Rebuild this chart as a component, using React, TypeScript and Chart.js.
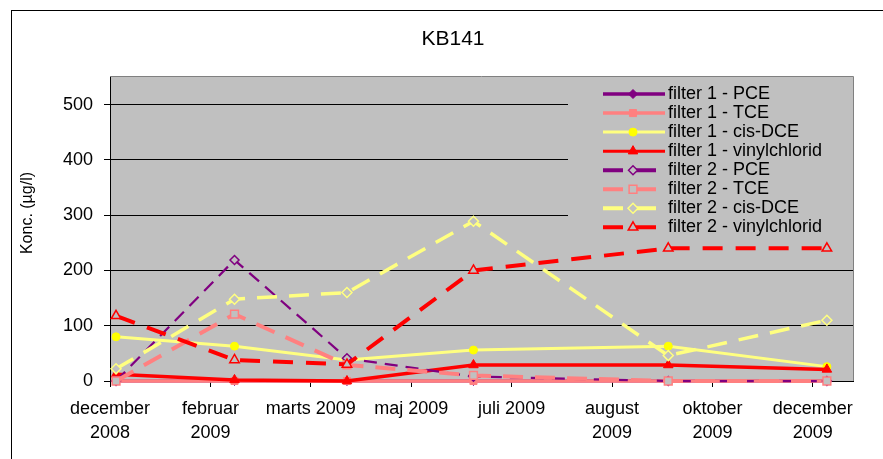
import React, { useEffect, useRef } from "react";
import { Chart, registerables } from "chart.js";
import { drawPoint } from "chart.js/helpers";

Chart.register(...registerables);

// ---------- data ----------
const chartTitle = "KB141";
const yAxisTitle = "Konc. (µg/l)";

const axisStartDate = "2008-12-19";
const axisSpanDays = 370;
const tickStepDays = 50;
const tickLabels: (string | string[])[] = [
  ["december", "2008"],
  ["februar", "2009"],
  "marts 2009",
  "maj 2009",
  "juli 2009",
  ["august", "2009"],
  ["oktober", "2009"],
  ["december", "2009"],
];

const sampleDates = ["2008-12-22", "2009-02-19", "2009-04-16", "2009-06-18", "2009-09-23", "2009-12-11"];

const seriesNames = [
  "filter 1 - PCE",
  "filter 1 - TCE",
  "filter 1 - cis-DCE",
  "filter 1 - vinylchlorid",
  "filter 2 - PCE",
  "filter 2 - TCE",
  "filter 2 - cis-DCE",
  "filter 2 - vinylchlorid",
];

const filter1PCE = [0, 0, 0, 0, 0, 0];
const filter1TCE = [0, 0, 0, 0, 0, 0];
const filter1CisDCE = [80, 63, 38, 56, 63, 26];
const filter1VC = [12, 2, 0, 29, 29, 21];
const filter2PCE = [0, 219, 41, 8, 0, 0];
const filter2TCE = [0, 121, 29, 10, 0, 0];
const filter2CisDCE = [22, 148, 160, 289, 46, 110];
const filter2VC = [118, 38, 30, 200, 240, 240];

const yMin = 0;
const yMax = 550;
const yStep = 100;

// ---------- styling ----------
const FONT = "'Liberation Sans', Arial, sans-serif";
const PLOT_BG = "#C0C0C0";
const PURPLE = "#800080";
const SALMON = "#FF8080";
const LYELLOW = "#FFFF80";
const YELLOW = "#FFFF00";
const RED = "#FF0000";

const dayMs = 86400000;
const dayOf = (s: string) =>
  (Date.parse(s + "T00:00:00Z") - Date.parse(axisStartDate + "T00:00:00Z")) / dayMs;

const toPoints = (vals: number[]) => sampleDates.map((d, i) => ({ x: dayOf(d), y: vals[i] }));

type Style = {
  color: string;
  width: number;
  dash: number[];
  pointStyle: string;
  radius: number;
  fill: string;
  pointBorder: string;
  pointBorderWidth: number;
  legendWidth: number;
};

const styles: Style[] = [
  { color: PURPLE, width: 3, dash: [], pointStyle: "rectRot", radius: 4.5, fill: PURPLE, pointBorder: PURPLE, pointBorderWidth: 1, legendWidth: 3.5 },
  { color: SALMON, width: 3.5, dash: [], pointStyle: "rect", radius: 5, fill: SALMON, pointBorder: SALMON, pointBorderWidth: 1, legendWidth: 3.5 },
  { color: LYELLOW, width: 3, dash: [], pointStyle: "circle", radius: 4, fill: YELLOW, pointBorder: YELLOW, pointBorderWidth: 1, legendWidth: 3 },
  { color: RED, width: 3.5, dash: [], pointStyle: "triangle", radius: 5.5, fill: RED, pointBorder: RED, pointBorderWidth: 1, legendWidth: 3 },
  { color: PURPLE, width: 2.25, dash: [13, 8], pointStyle: "rectRot", radius: 4.5, fill: PLOT_BG, pointBorder: PURPLE, pointBorderWidth: 1.5, legendWidth: 4 },
  { color: SALMON, width: 4, dash: [20, 12], pointStyle: "rect", radius: 5.5, fill: PLOT_BG, pointBorder: SALMON, pointBorderWidth: 1.5, legendWidth: 4 },
  { color: LYELLOW, width: 3.5, dash: [20, 12], pointStyle: "rectRot", radius: 5, fill: PLOT_BG, pointBorder: LYELLOW, pointBorderWidth: 1.5, legendWidth: 4 },
  { color: RED, width: 4, dash: [20, 13], pointStyle: "triangle", radius: 5.5, fill: PLOT_BG, pointBorder: RED, pointBorderWidth: 1.5, legendWidth: 4 },
];

const seriesValues = [filter1PCE, filter1TCE, filter1CisDCE, filter1VC, filter2PCE, filter2TCE, filter2CisDCE, filter2VC];

// ---------- plugins ----------
const backgroundPlugin = {
  id: "excelBackground",
  beforeDraw(chart: any) {
    const { ctx, chartArea: a, width, height } = chart;
    ctx.save();
    ctx.fillStyle = "#FFFFFF";
    ctx.fillRect(0, 0, width, height);
    // outer frame
    ctx.strokeStyle = "#000000";
    ctx.lineWidth = 1;
    ctx.strokeRect(11.5, 10.5, width + 20, height + 20);
    // plot area
    ctx.fillStyle = PLOT_BG;
    ctx.fillRect(a.left, a.top, a.right - a.left, a.bottom - a.top);
    ctx.strokeStyle = "#808080";
    ctx.beginPath();
    ctx.moveTo(a.left, a.top - 0.5);
    ctx.lineTo(a.right + 0.5, a.top - 0.5);
    ctx.lineTo(a.right + 0.5, a.bottom);
    ctx.stroke();
    // title
    ctx.fillStyle = "#000000";
    ctx.font = `21px ${FONT}`;
    ctx.textAlign = "center";
    ctx.textBaseline = "alphabetic";
    ctx.fillText(chartTitle, 453, 45);
    // y axis title
    ctx.translate(32, 213);
    ctx.rotate(-Math.PI / 2);
    ctx.font = `16px ${FONT}`;
    ctx.fillText(yAxisTitle, 0, 0);
    ctx.restore();
  },
};

const legendPlugin = {
  id: "excelLegend",
  afterDatasetsDraw(chart: any) {
    const { ctx } = chart;
    ctx.save();
    ctx.fillStyle = PLOT_BG;
    ctx.fillRect(568, 79, 285, 162);
    chart.data.datasets.forEach((ds: any, i: number) => {
      const st = styles[i];
      const y = 94 + i * 19.05;
      ctx.beginPath();
      ctx.strokeStyle = st.color;
      ctx.lineWidth = st.legendWidth;
      ctx.setLineDash(st.dash.length ? [20, 13] : []);
      ctx.moveTo(603, y);
      ctx.lineTo(665, y);
      ctx.stroke();
      ctx.setLineDash([]);
      ctx.fillStyle = st.fill;
      ctx.strokeStyle = st.pointBorder;
      ctx.lineWidth = st.pointBorderWidth;
      drawPoint(ctx, { pointStyle: st.pointStyle, radius: st.radius, rotation: 0, borderWidth: st.pointBorderWidth } as any, 633, y);
      ctx.fillStyle = "#000000";
      ctx.font = `18px ${FONT}`;
      ctx.textAlign = "left";
      ctx.textBaseline = "alphabetic";
      ctx.fillText(ds.label, 668, y + 4.5);
    });
    ctx.restore();
  },
};

export default function App() {
  const canvasRef = useRef<HTMLCanvasElement | null>(null);

  useEffect(() => {
    if (!canvasRef.current) return;
    const datasets = seriesNames.map((name, i) => {
      const st = styles[i];
      return {
        label: name,
        data: toPoints(seriesValues[i]),
        borderColor: st.color,
        borderWidth: st.width,
        borderDash: st.dash,
        backgroundColor: st.fill,
        pointStyle: st.pointStyle,
        pointRadius: st.radius,
        pointBackgroundColor: st.fill,
        pointBorderColor: st.pointBorder,
        pointBorderWidth: st.pointBorderWidth,
        tension: 0,
        fill: false,
        clip: false,
        order: seriesNames.length - i,
      };
    });

    const chart = new Chart(canvasRef.current, {
      type: "line",
      data: { datasets } as any,
      options: {
        animation: false,
        responsive: false,
        devicePixelRatio: 1,
        layout: { padding: { left: 0, top: 77, right: 30, bottom: 0 } },
        plugins: {
          legend: { display: false },
          title: { display: false },
          tooltip: { enabled: false },
        },
        scales: {
          x: {
            type: "linear",
            min: 0,
            max: axisSpanDays,
            afterFit: (s: any) => {
              s.height = 78;
            },
            border: { display: true, color: "#000000", width: 1 },
            grid: { drawOnChartArea: false, drawTicks: true, tickLength: 6, color: "#000000" },
            ticks: {
              stepSize: tickStepDays,
              includeBounds: false,
              autoSkip: false,
              maxRotation: 0,
              minRotation: 0,
              padding: 11,
              color: "#000000",
              font: { family: FONT, size: 18, lineHeight: 1.28 },
              callback: (v: any) => tickLabels[Math.round(Number(v) / tickStepDays)] as any,
            },
          },
          y: {
            type: "linear",
            min: yMin,
            max: yMax,
            afterFit: (s: any) => {
              s.width = 110;
            },
            border: { display: true, color: "#000000", width: 1 },
            grid: { drawOnChartArea: true, drawTicks: true, tickLength: 6, color: "#000000", lineWidth: 1 },
            ticks: {
              stepSize: yStep,
              includeBounds: false,
              padding: 11,
              color: "#000000",
              font: { family: FONT, size: 18 },
            },
          },
        },
      },
      plugins: [backgroundPlugin, legendPlugin],
    } as any);

    return () => chart.destroy();
  }, []);

  return (
    <div style={{ position: "absolute", left: 0, top: 0, width: 883, height: 459 }}>
      <canvas ref={canvasRef} width={883} height={459} style={{ display: "block" }} />
    </div>
  );
}
